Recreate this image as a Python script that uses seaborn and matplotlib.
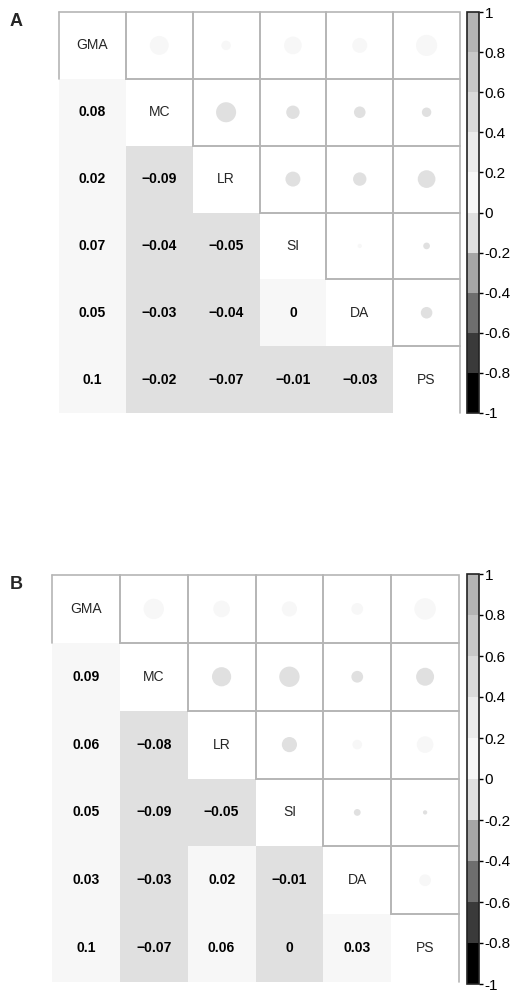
import numpy as np
import pandas as pd
import matplotlib
matplotlib.use("Agg")
import matplotlib.pyplot as plt
from matplotlib.colors import ListedColormap, Normalize
from matplotlib.patches import Circle
import seaborn as sns

sns.set_style("white")
plt.rcParams['font.family'] = ['Liberation Sans', 'DejaVu Sans']

# variables on the diagonal
variables = ['GMA', 'MC', 'LR', 'SI', 'DA', 'PS']

# correlation matrices
corr_a = [
    [1.00, 0.08, 0.02, 0.07, 0.05, 0.10],
    [0.08, 1.00, -0.09, -0.04, -0.03, -0.02],
    [0.02, -0.09, 1.00, -0.05, -0.04, -0.07],
    [0.07, -0.04, -0.05, 1.00, 0.004, -0.01],
    [0.05, -0.03, -0.04, 0.004, 1.00, -0.03],
    [0.10, -0.02, -0.07, -0.01, -0.03, 1.00],
]
corr_b = [
    [1.00, 0.09, 0.06, 0.05, 0.03, 0.10],
    [0.09, 1.00, -0.08, -0.09, -0.03, -0.07],
    [0.06, -0.08, 1.00, -0.05, 0.02, 0.06],
    [0.05, -0.09, -0.05, 1.00, -0.01, -0.004],
    [0.03, -0.03, 0.02, -0.01, 1.00, 0.03],
    [0.10, -0.07, 0.06, -0.004, 0.03, 1.00],
]

# colour bins from -1 to 1
grey_bins = ['#000000', '#3a3a3a', '#6e6e6e', '#a6a6a6', '#e0e0e0',
             '#f7f7f7', '#ebebeb', '#dadada', '#c8c8c8', '#b4b4b4']
cbar_ticks = [1, 0.8, 0.6, 0.4, 0.2, 0, -0.2, -0.4, -0.6, -0.8, -1]
cbar_labels = ['1', '0.8', '0.6', '0.4', '0.2', '0', '-0.2', '-0.4', '-0.6', '-0.8', '-1']

cmap = ListedColormap(grey_bins)
norm = Normalize(vmin=-1, vmax=1)
W, H = 517, 993
grid_col = '#b5b5b5'


def fmt(v):
    s = f"{round(v, 2):.2f}".rstrip('0').rstrip('.')
    if s in ('-0', '0', ''):
        return '0'
    return s.replace('-', '\u2212')


def draw_panel(fig, mat, letter, box, cbox, lbl_xy):
    df = pd.DataFrame(mat, index=variables, columns=variables)
    n = len(variables)
    ax = fig.add_axes([box[0] / W, 1 - (box[1] + box[3]) / H, box[2] / W, box[3] / H])
    cax = fig.add_axes([cbox[0] / W, 1 - (cbox[1] + cbox[3]) / H, cbox[2] / W, cbox[3] / H])

    mask = np.triu(np.ones((n, n), dtype=bool))
    annot = np.array([[fmt(v) for v in row] for row in mat])
    sns.heatmap(df, mask=mask, cmap=cmap, vmin=-1, vmax=1, annot=annot, fmt='',
                annot_kws={'fontsize': 10, 'fontweight': 'bold', 'color': 'black'},
                linewidths=0, square=False, ax=ax, cbar_ax=cax,
                cbar_kws={'ticks': cbar_ticks})
    for t in ax.texts:
        t.set_zorder(5)
    for coll in ax.collections:
        coll.set_zorder(3)

    # upper triangle: circles with area ~ |r|
    for i in range(n):
        for j in range(i + 1, n):
            v = df.iloc[i, j]
            ax.add_patch(Circle((j + 0.5, i + 0.5), np.sqrt(abs(v)) * 0.5,
                                facecolor=cmap(norm(v)), edgecolor='none', zorder=2))
            ax.add_patch(plt.Rectangle((j, i), 1, 1, fill=False, edgecolor=grid_col,
                                       lw=1.2, zorder=4, clip_on=False))
    # diagonal labels, top and right edges
    for k, name in enumerate(variables):
        ax.text(k + 0.5, k + 0.5, name, ha='center', va='center', fontsize=10, zorder=5)
        ax.plot([k, k + 1], [k, k], color=grid_col, lw=1.2, zorder=4, clip_on=False)
        ax.plot([k + 1, k + 1], [k, k + 1], color=grid_col, lw=1.2, zorder=4, clip_on=False)
    ax.plot([0, 0], [0, 1], color=grid_col, lw=1.2, zorder=4, clip_on=False)

    ax.set_xlim(0, n)
    ax.set_ylim(n, 0)
    ax.set_xticks([])
    ax.set_yticks([])
    ax.set_xlabel('')
    ax.set_ylabel('')
    for s in ax.spines.values():
        s.set_visible(False)

    cax.set_yticks(cbar_ticks)
    cax.set_yticklabels(cbar_labels)
    cax.tick_params(axis='y', length=3, width=1, labelsize=11, pad=1, colors='black')
    cb = ax.collections[0].colorbar
    cb.outline.set_edgecolor('#222222')
    cb.outline.set_linewidth(1.2)

    fig.text(lbl_xy[0] / W, 1 - lbl_xy[1] / H, letter, fontsize=13, fontweight='bold',
             ha='left', va='top')


fig = plt.figure(figsize=(W / 100, H / 100), dpi=100)
draw_panel(fig, corr_a, 'A', (59, 12, 401, 401), (467, 12, 12, 401), (10, 13))
draw_panel(fig, corr_b, 'B', (52, 575, 407, 407), (467, 574, 12, 410), (10, 576))
fig.savefig('out.png', dpi=100)
